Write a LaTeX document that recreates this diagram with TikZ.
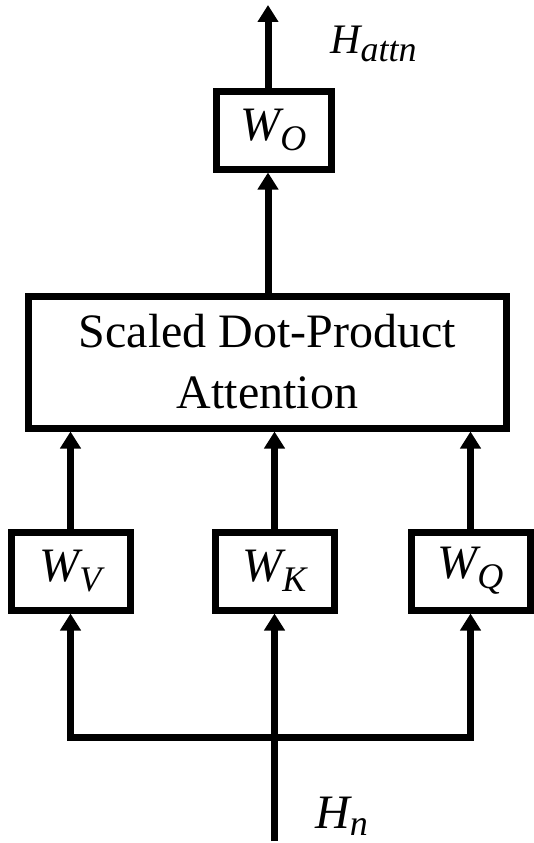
\documentclass[tikz,border=0pt]{standalone}
\usepackage{fontspec}
\setmainfont{Liberation Serif}
\usetikzlibrary{arrows.meta}
\newcommand\mylab[5]{{\fontsize{#1}{#1}\selectfont\itshape #2}\raisebox{-#5}{\fontsize{#3}{#3}\selectfont\itshape #4}}
\begin{document}
\begin{tikzpicture}[x=1pt,y=-1pt,
  box/.style={draw, line width=7pt, rectangle, inner sep=0pt, minimum height=78pt, minimum width=119pt},
  arr/.style={line width=7pt, -{Triangle[length=17pt,width=20pt]}},
  lbl/.style={inner sep=0pt, anchor=base west}]
\useasboundingbox (0,0) rectangle (534,843);
% boxes
\node[box, minimum width=115pt] (WO) at (273.5,130) {\mylab{48pt}{W}{36pt}{O}{10pt}};
\node[box, minimum width=478pt, minimum height=132pt, font=\fontsize{48}{61}\selectfont, align=center] (sdpa) at (267.5,362) {Scaled Dot-Product\\Attention};
\node[box] (WV) at (70.5,571) {\mylab{48pt}{W}{36pt}{V}{10pt}};
\node[box] (WK) at (274.5,571) {\mylab{48pt}{W}{36pt}{K}{10pt}};
\node[box] (WQ) at (470.5,571) {\mylab{48pt}{W}{36pt}{Q}{10pt}};
% labels
\node[lbl] (hattn) at (330,53) {\mylab{42pt}{H}{36pt}{attn}{9pt}};
\node[lbl] (hn) at (315,828) {\mylab{48pt}{H}{36pt}{n}{7pt}};
% coordinates
\coordinate (out) at (268,5);
\coordinate (in) at (274.5,841);
\coordinate (split) at (274.5,737);
% connectors
\draw[arr] (out |- WO.north) -- (out);
\draw[arr] (out |- sdpa.north) -- (out |- WO.south);
\draw[arr] (WV.north) -- (WV.north |- sdpa.south);
\draw[arr] (WK.north) -- (WK.north |- sdpa.south);
\draw[arr] (WQ.north) -- (WQ.north |- sdpa.south);
\draw[arr] (in) -- (WK.south);
\draw[arr] (split) -| (WV.south);
\draw[arr] (split) -| (WQ.south);
\end{tikzpicture}
\end{document}
